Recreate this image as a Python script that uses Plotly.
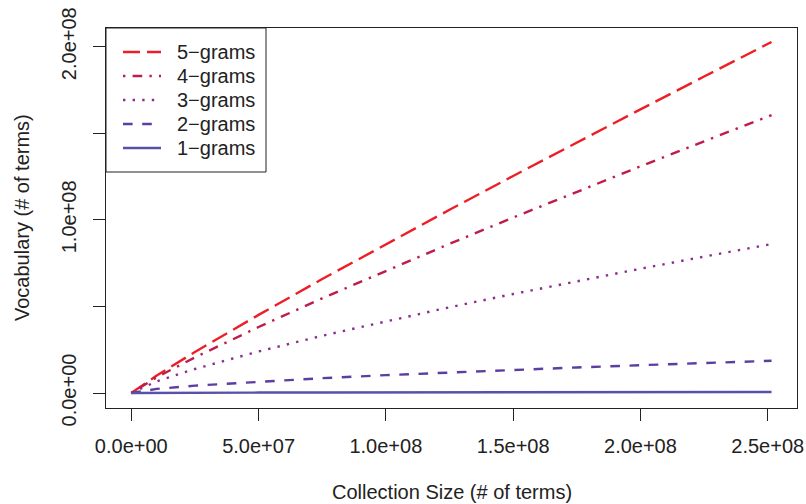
import plotly.graph_objects as go

# ---- data ----
collection_size = [0, 1.0e7, 2.5e7, 5.0e7, 7.5e7, 1.0e8, 1.25e8, 1.5e8, 1.75e8, 2.0e8, 2.25e8, 2.515e8]
vocab_5grams = [0, 0.101e8, 0.237e8, 0.451e8, 0.658e8, 0.860e8, 1.058e8, 1.2535e8, 1.447e8, 1.638e8, 1.8276e8, 2.027e8]
vocab_4grams = [0, 0.091e8, 0.2056e8, 0.381e8, 0.547e8, 0.706e8, 0.8616e8, 1.0133e8, 1.162e8, 1.309e8, 1.4535e8, 1.605e8]
vocab_3grams = [0, 0.0673e8, 0.1388e8, 0.240e8, 0.3307e8, 0.415e8, 0.495e8, 0.5717e8, 0.6458e8, 0.7176e8, 0.7876e8, 0.86e8]
vocab_2grams = [0, 0.0236e8, 0.0424e8, 0.0661e8, 0.0857e8, 0.1031e8, 0.1189e8, 0.1336e8, 0.1475e8, 0.1606e8, 0.1732e8, 0.186e8]
vocab_1grams = [0, 1.0e5, 1.7e5, 2.5e5, 3.1e5, 3.6e5, 4.1e5, 4.5e5, 4.9e5, 5.3e5, 5.7e5, 6.0e5]

series_names = ["5−grams", "4−grams", "3−grams", "2−grams", "1−grams"]

x_tick_values = [0, 5e7, 1e8, 1.5e8, 2e8, 2.5e8]
x_tick_labels = ["0.0e+00", "5.0e+07", "1.0e+08", "1.5e+08", "2.0e+08", "2.5e+08"]
y_tick_values = [0, 5e7, 1e8, 1.5e8, 2e8]
y_tick_labels = ["0.0e+00", "", "1.0e+08", "", "2.0e+08"]

x_title = "Collection Size (# of terms)"
y_title = "Vocabulary (# of terms)"

# ---- styles / layout geometry (pixels) ----
colors = ["#EC1F27", "#BE1D4A", "#8C2C8E", "#5C3DA0", "#5752A8"]
dashes = ["17px,7px", "2.4px,7.2px,9.6px,7.2px", "2.4px,7.2px", "9.6px,9.6px", "solid"]
TEXT = "#222222"
FONT = "Liberation Sans, Arial, Helvetica, sans-serif"
W, H = 806, 504
L, R, T, B = 106, 9, 28, 96
PW, PH = W - L - R, H - T - B


def px_x(px):
    return (px - L) / PW


def px_y(py):
    return (H - B - py) / PH


fig = go.Figure()
series = [vocab_5grams, vocab_4grams, vocab_3grams, vocab_2grams, vocab_1grams]
for name, vals, col, dash in zip(series_names, series, colors, dashes):
    fig.add_trace(go.Scatter(x=collection_size, y=vals, mode="lines", name=name,
                             showlegend=False,
                             line=dict(color=col, width=2.4, dash=dash)))

# ---- legend drawn in the corner (box, line samples, labels) ----
shapes = [dict(type="rect", xref="paper", yref="paper",
               x0=px_x(106), x1=px_x(266), y0=px_y(172), y1=px_y(28),
               line=dict(color=TEXT, width=1), fillcolor="white", layer="above")]
annotations = []
row_y = [52, 76, 100, 124, 148]
for name, col, dash, ry in zip(series_names, colors, dashes, row_y):
    shapes.append(dict(type="line", xref="paper", yref="paper",
                       x0=px_x(123), x1=px_x(161), y0=px_y(ry), y1=px_y(ry),
                       line=dict(color=col, width=2.4, dash=dash), layer="above"))
    annotations.append(dict(text=name, xref="paper", yref="paper", x=px_x(175),
                            y=px_y(ry), xanchor="left", yanchor="middle",
                            showarrow=False, font=dict(size=20, color=TEXT)))

annotations += [
    dict(text=x_title, xref="paper", yref="paper", x=0.5, y=0, xanchor="center",
         yanchor="middle", yshift=-84, showarrow=False, font=dict(size=20, color=TEXT)),
    dict(text=y_title, xref="paper", yref="paper", x=0, y=0.5, xanchor="center",
         yanchor="middle", xshift=-84, textangle=-90, showarrow=False,
         font=dict(size=20, color=TEXT)),
]

fig.update_layout(
    width=W, height=H,
    margin=dict(l=L, r=R, t=T, b=B, autoexpand=False),
    paper_bgcolor="white", plot_bgcolor="white",
    font=dict(family=FONT, size=20, color=TEXT),
    showlegend=False,
    shapes=shapes,
    annotations=annotations,
)
fig.update_xaxes(range=[-0.0993e8, 2.615e8], tickmode="array", tickvals=x_tick_values,
                 ticktext=x_tick_labels, ticks="outside", ticklen=12, tickwidth=1,
                 tickcolor=TEXT, showline=True, linecolor=TEXT, linewidth=1, mirror=True,
                 showgrid=False, zeroline=False, automargin=False, ticklabelstandoff=8,
                 tickfont=dict(size=20, color=TEXT))
fig.update_yaxes(range=[-0.0866e8, 2.108e8], tickmode="array", tickvals=y_tick_values,
                 ticktext=y_tick_labels, tickangle=-90, ticks="outside", ticklen=12,
                 tickwidth=1, tickcolor=TEXT, showline=True, linecolor=TEXT, linewidth=1,
                 mirror=True, showgrid=False, zeroline=False, automargin=False,
                 ticklabelstandoff=9, tickfont=dict(size=20, color=TEXT))

fig.write_html("out.html", config={"displayModeBar": False},
               post_script="document.body.style.margin='0';")
